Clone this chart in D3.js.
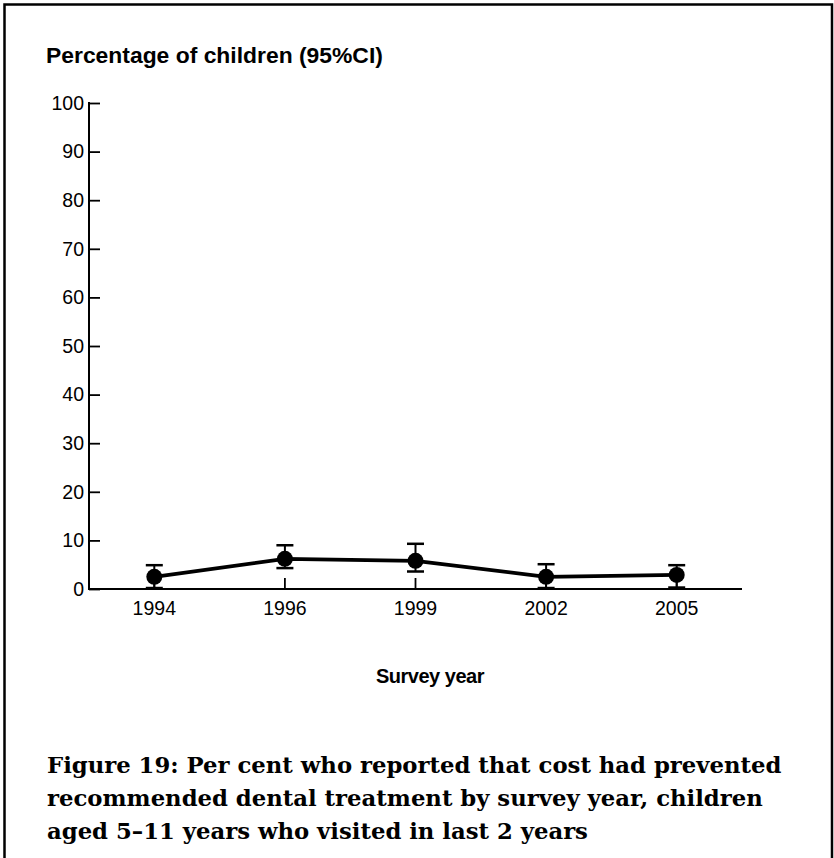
<!DOCTYPE html>
<html>
<head>
<meta charset="utf-8">
<script src="https://cdn.jsdelivr.net/npm/d3@7/dist/d3.min.js"></script>
<style>
  html, body { margin: 0; padding: 0; background: #fff; }
  svg { display: block; }
</style>
</head>
<body>
<svg id="chart" width="834" height="858"></svg>
<script>
// ---- data ----
const years = ["1994", "1996", "1999", "2002", "2005"];
const estimate = [2.5, 6.2, 5.8, 2.5, 2.9];
const lowerCI = [0.2, 4.3, 3.6, 0.2, 0.3];
const upperCI = [4.9, 9.0, 9.3, 5.1, 4.9];
const yTicks = [0, 10, 20, 30, 40, 50, 60, 70, 80, 90, 100];
const yTitle = "Percentage of children (95%CI)";
const xTitle = "Survey year";
const captionLines = [
  "Figure 19: Per cent who reported that cost had prevented",
  "recommended dental treatment by survey year, children",
  "aged 5\u201311 years who visited in last 2 years"
];

(function () {
const svg = d3.select("#chart");
const pLeft = 89, pRight = 742, pTop = 103, pBottom = 589;

const x = d3.scaleBand().domain(years).range([pLeft, pRight]).paddingInner(0).paddingOuter(0);
const y = d3.scaleLinear().domain([0, 100]).range([pBottom, pTop]);
const cx = d => x(d) + x.bandwidth() / 2;

// frame
svg.append("path")
  .attr("d", `M4.5,900 V4.5 H832 V900`)
  .attr("fill", "none").attr("stroke", "#000").attr("stroke-width", 2.5);

// y title
const sans = "'Liberation Sans', Arial, sans-serif";
const yt = svg.append("text")
  .attr("x", 46).attr("y", 63)
  .attr("font-family", sans).attr("font-weight", "bold").attr("font-size", 18)
  .attr("fill", "#000").text(yTitle);
{
  const w = yt.node().getComputedTextLength();
  yt.attr("font-size", 18 * 337 / w);
}

// y axis (ticks inward)
const yAxis = d3.axisRight(y).tickValues(yTicks).tickSize(11).tickFormat(d => d);
const gy = svg.append("g").attr("transform", `translate(${pLeft},0)`).call(yAxis);
gy.select(".domain").remove();
gy.selectAll(".tick line").attr("stroke", "#000").attr("stroke-width", 1.8);
gy.selectAll(".tick text")
  .attr("x", -5).attr("text-anchor", "end")
  .attr("font-family", sans).attr("font-size", 19.5).attr("fill", "#000");

// x axis (ticks inward)
const xAxis = d3.axisBottom(x).tickSize(-11).tickSizeOuter(0);
const gx = svg.append("g").attr("transform", `translate(0,${pBottom})`).call(xAxis);
gx.select(".domain").remove();
gx.selectAll(".tick line").attr("stroke", "#000").attr("stroke-width", 1.8);
gx.selectAll(".tick text")
  .attr("y", 12).attr("dy", "0.71em")
  .attr("font-family", sans).attr("font-size", 19.5).attr("fill", "#000");

// axis lines
svg.append("line").attr("x1", pLeft).attr("x2", pLeft).attr("y1", pTop - 1).attr("y2", pBottom + 1)
  .attr("stroke", "#000").attr("stroke-width", 2);
svg.append("line").attr("x1", pLeft - 1).attr("x2", pRight).attr("y1", pBottom).attr("y2", pBottom)
  .attr("stroke", "#000").attr("stroke-width", 2);

// x title
svg.append("text")
  .attr("x", 430).attr("y", 683).attr("text-anchor", "middle")
  .attr("font-family", sans).attr("font-weight", "bold").attr("font-size", 20)
  .attr("letter-spacing", -0.5)
  .attr("fill", "#000").text(xTitle);

// error bars
const capHalf = 8.5;
const eb = svg.append("g");
years.forEach((yr, i) => {
  const px = cx(yr);
  eb.append("line").attr("x1", px).attr("x2", px)
    .attr("y1", y(lowerCI[i])).attr("y2", y(upperCI[i]))
    .attr("stroke", "#000").attr("stroke-width", 2);
  [lowerCI[i], upperCI[i]].forEach(v => {
    eb.append("line").attr("x1", px - capHalf).attr("x2", px + capHalf)
      .attr("y1", y(v)).attr("y2", y(v))
      .attr("stroke", "#000").attr("stroke-width", 2.5);
  });
});

// line
const line = d3.line().x((d, i) => cx(years[i])).y(d => y(d));
svg.append("path").datum(estimate).attr("d", line)
  .attr("fill", "none").attr("stroke", "#000").attr("stroke-width", 3.8)
  .attr("stroke-linejoin", "round");

// points
svg.append("g").selectAll("circle").data(estimate).join("circle")
  .attr("cx", (d, i) => cx(years[i])).attr("cy", d => y(d)).attr("r", 8)
  .attr("fill", "#000");

// caption
const serif = "'DejaVu Serif', 'Liberation Serif', serif";
const cap = svg.append("g");
const capTexts = captionLines.map((t, i) =>
  cap.append("text").attr("x", 47).attr("y", 773 + i * 33)
    .attr("font-family", serif).attr("font-weight", "bold").attr("font-size", 20)
    .attr("fill", "#000").text(t));
{
  const w = capTexts[0].node().getComputedTextLength();
  const fs = 20 * 735 / w;
  capTexts.forEach(t => t.attr("font-size", fs));
}
})();
</script>
</body>
</html>
